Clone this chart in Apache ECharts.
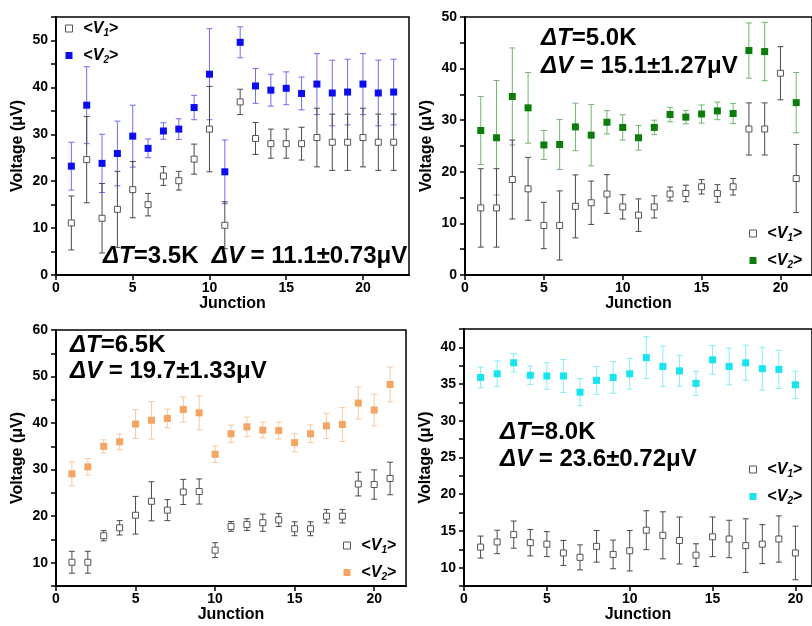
<!DOCTYPE html>
<html>
<head>
<meta charset="utf-8">
<script src="https://cdn.jsdelivr.net/npm/echarts@6/dist/echarts.min.js"></script>
<style>html,body{margin:0;padding:0;background:#fff}#c{width:812px;height:626px}</style>
</head>
<body>
<div id="c"></div>
<script>
// ---------- data ----------
const p1Junction = [1,2,3,4,5,6,7,8,9,10,11,12,13,14,15,16,17,18,19,20,21,22];
const p1V1    = [11.1,24.6,12.1,14.0,18.2,15.0,21.1,20.1,24.7,31.1,10.6,36.9,29.1,28.0,28.0,28.0,29.3,28.3,28.3,29.3,28.3,28.3];
const p1V1Err = [5.75,9.2,7.4,8.1,6.0,2.4,2.0,2.0,3.2,9.1,5.0,2.7,3.4,3.1,3.1,3.5,6.25,6.0,6.0,6.25,6.0,6.0];
const p1V2    = [23.2,36.2,23.8,25.9,29.6,27.0,30.7,31.1,35.7,42.8,22.0,49.6,40.3,39.4,39.8,38.7,40.7,38.8,39.0,40.7,38.8,39.0];
const p1V2Err = [5.1,8.2,6.2,6.9,6.6,2.0,1.75,2.2,2.6,9.7,6.8,3.3,3.7,3.4,3.5,3.5,6.5,7.0,7.0,6.5,7.0,7.0];

const p2Junction = [1,2,3,4,5,6,7,8,9,10,11,12,13,14,15,16,17,18,19,20,21];
const p2V1    = [13.0,13.0,18.5,16.7,9.6,9.6,13.3,14.0,15.7,13.2,11.6,13.2,15.7,15.8,17.1,15.8,17.1,28.3,28.3,39.1,18.7];
const p2V1Err = [7.6,7.6,7.65,6.1,4.5,6.7,6.1,4.2,3.75,2.35,3.15,2.15,1.35,1.6,1.4,1.7,1.6,5.05,5.05,5.15,6.6];
const p2V2    = [28.0,26.6,34.6,32.4,25.2,25.3,28.7,27.1,29.6,28.6,26.6,28.6,31.1,30.6,31.2,31.8,31.3,43.5,43.3,null,33.4];
const p2V2Err = [6.6,11.1,9.4,6.85,2.8,4.85,4.6,5.95,2.25,2.45,2.4,1.4,1.4,1.3,1.75,1.7,1.95,5.35,5.65,null,5.85];

const p3Junction = [1,2,3,4,5,6,7,8,9,10,11,12,13,14,15,16,17,18,19,20,21];
const p3V1    = [10.1,10.1,15.8,17.5,20.2,23.2,21.3,25.2,25.3,12.7,17.8,18.2,18.6,19.2,17.3,17.3,20.0,20.0,26.9,26.8,28.1];
const p3V1Err = [2.35,2.35,1.1,1.55,4.05,4.2,2.25,2.7,2.7,1.6,1.05,1.25,1.85,1.4,1.5,1.5,1.45,1.45,2.55,3.15,3.5];
const p3V2    = [29.1,30.6,35.0,36.0,39.8,40.6,41.0,42.9,42.2,33.3,37.7,39.2,38.5,38.4,35.8,37.7,39.4,39.7,44.3,42.8,48.3];
const p3V2Err = [2.55,1.8,1.4,1.65,3.1,4.05,2.0,2.7,3.65,1.75,1.85,2.1,1.7,1.8,1.95,1.9,2.7,3.65,3.45,3.4,3.75];

const p4Junction = [1,2,3,4,5,6,7,8,9,10,11,12,13,14,15,16,17,18,19,20];
const p4V1    = [12.8,13.5,14.5,13.4,13.2,12.0,11.4,12.9,11.8,12.3,15.1,14.4,13.7,11.7,14.2,13.9,13.0,13.2,13.9,12.0];
const p4V1Err = [1.5,1.6,1.85,1.8,1.7,1.7,1.7,2.15,1.95,2.75,2.65,3.2,3.2,1.55,2.7,2.55,3.65,2.65,3.15,3.65];
const p4V2    = [35.9,36.4,37.9,36.2,36.1,36.1,33.9,35.5,35.9,36.4,38.6,37.4,36.8,35.1,38.3,37.4,37.9,37.1,37.0,34.9];
const p4V2Err = [1.4,1.75,1.25,1.25,1.8,2.25,1.85,1.9,2.15,2.1,2.85,2.75,2.1,1.65,1.95,2.5,2.4,2.9,2.6,1.85];

const xTickLabels = [0,5,10,15,20];
const annotations = [
  ['{i|ΔT}=3.5K  {i|ΔV} = 11.1±0.73μV'],
  ['{i|ΔT}=5.0K', '{i|ΔV} = 15.1±1.27μV'],
  ['{i|ΔT}=6.5K', '{i|ΔV} = 19.7±1.33μV'],
  ['{i|ΔT}=8.0K', '{i|ΔV} = 23.6±0.72μV']
];

// ---------- styling / layout ----------
const FONT = 'Liberation Sans, Arial, Helvetica, sans-serif';
const panels = [
  {junction:p1Junction, v1:p1V1, v1e:p1V1Err, v2:p1V2, v2e:p1V2Err,
   grid:{left:56, top:17, width:353, height:258}, xmax:23, ymin:0, ymax:55, yint:5, ylab:10,
   col:'#0c0cf0', ecol:'#6e6ef0', legend:{left:65, top:19},
   ann:{x:103, y:[256]}},
  {junction:p2Junction, v1:p2V1, v1e:p2V1Err, v2:p2V2, v2e:p2V2Err,
   grid:{left:465, top:17, width:351, height:258}, xmax:22, ymin:0, ymax:50, yint:5, ylab:10,
   col:'#0b7d0b', ecol:'#72b472', legend:{left:749, top:224},
   ann:{x:541, y:[38.5, 66.5]}},
  {junction:p3Junction, v1:p3V1, v1e:p3V1Err, v2:p3V2, v2e:p3V2Err,
   grid:{left:56, top:330, width:350, height:256}, xmax:22, ymin:5, ymax:60, yint:5, ylab:10,
   col:'#f5a462', ecol:'#f6c9a2', legend:{left:343, top:536},
   ann:{x:70, y:[345, 371]}},
  {junction:p4Junction, v1:p4V1, v1e:p4V1Err, v2:p4V2, v2e:p4V2Err,
   grid:{left:464, top:329, width:351, height:257}, xmax:21, ymin:7.5, ymax:42.5, yint:2.5, ylab:5,
   col:'#16e4ee', ecol:'#85eef3', legend:{left:749, top:460},
   ann:{x:500, y:[432.5, 459.5]}}
];
const V1COL = '#555555', V1ECOL = '#4a4a4a';

function errSeries(name, idx, xs, ys, es, color) {
  const data = xs.map((x, i) => [x, ys[i], es[i]]).filter(d => d[1] != null);
  return {
    name, type:'custom', xAxisIndex:idx, yAxisIndex:idx, z:2, silent:true, clip:false,
    encode:{x:0, y:1},
    data,
    renderItem(params, api) {
      const x = api.value(0), y = api.value(1), e = api.value(2);
      const t = api.coord([x, y + e]), b = api.coord([x, y - e]);
      const hw = 3;
      const st = {stroke: color, lineWidth: 1};
      return {type:'group', children:[
        {type:'line', shape:{x1:t[0], y1:t[1], x2:b[0], y2:b[1]}, style:st},
        {type:'line', shape:{x1:t[0]-hw, y1:t[1], x2:t[0]+hw, y2:t[1]}, style:st},
        {type:'line', shape:{x1:b[0]-hw, y1:b[1], x2:b[0]+hw, y2:b[1]}, style:st}
      ]};
    }
  };
}

const legendRich = {
  a:{fontSize:16, fontWeight:'bold', fontFamily:FONT, lineHeight:20, color:'#000'},
  v:{fontSize:16, fontWeight:'bold', fontStyle:'italic', fontFamily:FONT, lineHeight:20, color:'#000'},
  s:{fontSize:10, fontWeight:'bold', fontStyle:'italic', fontFamily:FONT, lineHeight:20, color:'#000', padding:[9,0,0,0]}
};

const option = {
  backgroundColor:'#fff',
  animation:false,
  grid:[], xAxis:[], yAxis:[], series:[], legend:[], graphic:[]
};

panels.forEach((p, k) => {
  option.grid.push(Object.assign({show:true, borderColor:'#000', borderWidth:1.5, backgroundColor:'transparent'}, p.grid));
  option.xAxis.push({
    type:'value', gridIndex:k, min:0, max:p.xmax, interval:5,
    name:'Junction', nameLocation:'middle', nameGap:21,
    nameTextStyle:{fontSize:16, fontWeight:'bold', fontFamily:FONT, color:'#000'},
    axisLine:{show:true, onZero:false, lineStyle:{color:'#000', width:2}},
    axisTick:{show:true, length:5, lineStyle:{color:'#000', width:1.5}},
    axisLabel:{fontSize:14, fontWeight:'bold', fontFamily:FONT, color:'#000', margin:6, showMaxLabel:false,
      formatter: v => xTickLabels.indexOf(v) >= 0 ? String(v) : ''},
    splitLine:{show:false}
  });
  option.yAxis.push({
    type:'value', gridIndex:k, min:p.ymin, max:p.ymax, interval:p.yint,
    name:'Voltage (μV)', nameLocation:'middle', nameGap:30,
    nameTextStyle:{fontSize:16, fontWeight:'bold', fontFamily:FONT, color:'#000'},
    axisLine:{show:true, onZero:false, lineStyle:{color:'#000', width:2}},
    axisTick:{show:true, length:5, lineStyle:{color:'#000', width:1.5}},
    axisLabel:{fontSize:14, fontWeight:'bold', fontFamily:FONT, color:'#000', margin:8, showMaxLabel:true,
      formatter: v => (Math.abs(v / p.ylab - Math.round(v / p.ylab)) < 1e-6) ? String(v) : ''},
    splitLine:{show:false}
  });
  const n1 = 'p' + (k+1) + 'v1', n2 = 'p' + (k+1) + 'v2';
  option.series.push(errSeries(n2 + 'e', k, p.junction, p.v2, p.v2e, p.ecol));
  option.series.push(errSeries(n1 + 'e', k, p.junction, p.v1, p.v1e, V1ECOL));
  option.series.push({
    name:n1, type:'scatter', xAxisIndex:k, yAxisIndex:k, symbol:'rect', symbolSize:6, z:4,
    itemStyle:{color:'#fff', borderColor:V1COL, borderWidth:1, opacity:1},
    data:p.junction.map((x, i) => [x, p.v1[i]])
  });
  option.series.push({
    name:n2, type:'scatter', xAxisIndex:k, yAxisIndex:k, symbol:'rect', symbolSize:7, z:5,
    itemStyle:{color:p.col, opacity:1},
    data:p.junction.map((x, i) => [x, p.v2[i]]).filter(d => d[1] != null)
  });
  option.legend.push({
    orient:'vertical', left:p.legend.left, top:p.legend.top, padding:0,
    itemWidth:7, itemHeight:7, itemGap:8,
    selectedMode:false,
    data:[
      {name:n1, icon:'rect', itemStyle:{color:'#fff', borderColor:V1COL, borderWidth:1}},
      {name:n2, icon:'rect', itemStyle:{color:p.col, borderWidth:0}}
    ],
    textStyle:{padding:[0,0,0,6], rich:legendRich},
    formatter: name => name.endsWith('v1') ? '{a|<}{v|V}{s|1}{a|>}' : '{a|<}{v|V}{s|2}{a|>}'
  });
  annotations[k].forEach((line, j) => {
    option.graphic.push({
      type:'text', x:p.ann.x, y:p.ann.y[j], z:100,
      style:{
        text:line, fill:'#000', fontSize:24, fontWeight:'bold', fontFamily:FONT,
        verticalAlign:'middle', align:'left',
        rich:{i:{fontSize:24, fontWeight:'bold', fontStyle:'italic', fontFamily:FONT, fill:'#000'}}
      }
    });
  });
});

const chart = echarts.init(document.getElementById('c'), null, {renderer:'canvas'});
chart.setOption(option);
</script>
</body>
</html>
